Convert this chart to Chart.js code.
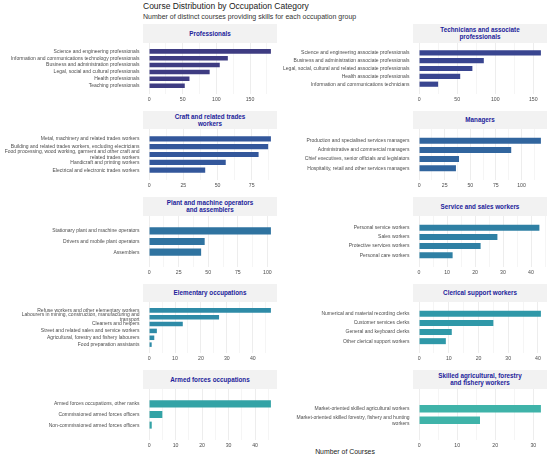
<!DOCTYPE html>
<html>
<head>
<meta charset="utf-8">
<script src="https://cdn.jsdelivr.net/npm/chart.js@4.4.1/dist/chart.umd.min.js"></script>
<style>
  body { margin: 0; background: #fff; font-family: "Liberation Sans", Arial, sans-serif; }
  #wrap { position: relative; width: 550px; height: 458px; overflow: hidden; }
  .title { position: absolute; left: 143px; top: 1px; font-size: 8.5px; color: #1a1a1a; white-space: nowrap; }
  .subtitle { position: absolute; left: 143px; top: 13px; font-size: 7px; color: #333; white-space: nowrap; }
  .strip {
    position: absolute; width: 134px; height: 18.5px; background: #f2f2f2; box-sizing: border-box;
    display: flex; align-items: center; justify-content: center; text-align: center;
    font-weight: bold; font-size: 6.3px; line-height: 7px; color: #22229a;
  }
  .panel { position: absolute; }
  .xtitle { position: absolute; left: 345px; top: 448px; transform: translateX(-50%); font-size: 6.9px; color: #1a1a1a; white-space: nowrap; }
</style>
</head>
<body>
<div id="wrap">
  <div class="title">Course Distribution by Occupation Category</div>
  <div class="subtitle">Number of distinct courses providing skills for each occupation group</div>
  <div class="xtitle">Number of Courses</div>
</div>
<script>
// Occupation groups, in facet order
const groupNames = [
  'Professionals', 'Technicians and associate professionals',
  'Craft and related trades workers', 'Managers',
  'Plant and machine operators and assemblers', 'Service and sales workers',
  'Elementary occupations', 'Clerical support workers',
  'Armed forces occupations', 'Skilled agricultural, forestry and fishery workers'
];

const professionalsLabels = ['Science and engineering professionals', 'Information and communications technology professionals',
  'Business and administration professionals', 'Legal, social and cultural professionals', 'Health professionals', 'Teaching professionals'];
const professionalsValues = [181, 117, 105, 90, 60, 53];

const techniciansLabels = ['Science and engineering associate professionals', 'Business and administration associate professionals',
  'Legal, social, cultural and related associate professionals', 'Health associate professionals', 'Information and communications technicians'];
const techniciansValues = [160, 85, 70, 54, 25];

const craftLabels = ['Metal, machinery and related trades workers', 'Building and related trades workers, excluding electricians',
  ['Food processing, wood working, garment and other craft and', 'related trades workers'], 'Handicraft and printing workers', 'Electrical and electronic trades workers'];
const craftValues = [89, 87, 80, 56, 41];

const managersLabels = ['Production and specialised services managers', 'Administrative and commercial managers',
  'Chief executives, senior officials and legislators', 'Hospitality, retail and other services managers'];
const managersValues = [119, 90, 39, 36];

const plantLabels = ['Stationary plant and machine operators', 'Drivers and mobile plant operators', 'Assemblers'];
const plantValues = [103, 47, 44];

const serviceLabels = ['Personal service workers', 'Sales workers', 'Protective services workers', 'Personal care workers'];
const serviceValues = [43, 28, 22, 12];

const elementaryLabels = ['Refuse workers and other elementary workers', ['Labourers in mining, construction, manufacturing and', 'transport'],
  'Cleaners and helpers', 'Street and related sales and service workers', 'Agricultural, forestry and fishery labourers', 'Food preparation assistants'];
const elementaryValues = [47, 27, 13, 3, 2, 1];

const clericalLabels = ['Numerical and material recording clerks', 'Customer services clerks', 'General and keyboard clerks', 'Other clerical support workers'];
const clericalValues = [41, 25, 11, 9];

const armedLabels = ['Armed forces occupations, other ranks', 'Commissioned armed forces officers', 'Non-commissioned armed forces officers'];
const armedValues = [46, 5, 1];

const skilledLabels = ['Market-oriented skilled agricultural workers', ['Market-oriented skilled forestry, fishery and hunting', 'workers']];
const skilledValues = [32, 16];

// major tick step per panel (minor grid lines sit halfway)
const majorSteps = [50, 50, 25, 25, 25, 10, 10, 10, 10, 10];

const barColors = ['#3e3c82', '#394590', '#33579b', '#31659e', '#2f73a0', '#2f80a4', '#2e8ba7', '#2f98a8', '#33a3a6', '#3fb3a9'];

const panelLabels = [professionalsLabels, techniciansLabels, craftLabels, managersLabels, plantLabels,
  serviceLabels, elementaryLabels, clericalLabels, armedLabels, skilledLabels];
const panelValues = [professionalsValues, techniciansValues, craftValues, managersValues, plantValues,
  serviceValues, elementaryValues, clericalValues, armedValues, skilledValues];

const FONT = '"Liberation Sans", Arial, sans-serif';
const wrap = document.getElementById('wrap');

// room above the plot area so overhanging y labels don't squeeze it;
// the canvas is shifted up by the same amount (transparent over the strip)
const TOP_PAD = 10;

groupNames.forEach((name, idx) => {
  const col = idx % 2;
  const row = Math.floor(idx / 2);
  const stripTop = 24 + row * 86.5;
  const left = col === 0 ? 0 : 270;

  // facet strip
  const strip = document.createElement('div');
  strip.className = 'strip';
  strip.style.left = (left + 143) + 'px';
  strip.style.top = stripTop + 'px';
  strip.style.padding = name.length > 26 ? '0 22px' : '0';
  strip.textContent = name;
  wrap.appendChild(strip);

  const canvas = document.createElement('canvas');
  canvas.className = 'panel';
  canvas.width = 277;
  canvas.height = 63 + TOP_PAD;
  canvas.style.left = left + 'px';
  canvas.style.top = (stripTop + 18.5 - TOP_PAD) + 'px';
  wrap.appendChild(canvas);

  const labels = panelLabels[idx];
  const values = panelValues[idx];
  const n = values.length;
  const top = Math.max(...values);
  const step = majorSteps[idx];

  new Chart(canvas, {
    type: 'bar',
    data: {
      datasets: [{
        data: values.map((v, i) => ({ x: v, y: i })),
        backgroundColor: barColors[idx],
        borderWidth: 0,
        categoryPercentage: 1,
        barPercentage: 0.66
      }]
    },
    options: {
      indexAxis: 'y',
      responsive: false,
      animation: false,
      events: [],
      layout: { padding: { top: TOP_PAD, left: 0, right: 0, bottom: 0 } },
      plugins: { legend: { display: false }, tooltip: { enabled: false } },
      scales: {
        x: {
          type: 'linear',
          min: -0.05 * top,
          max: 1.05 * top,
          border: { display: false },
          grid: {
            drawTicks: false,
            color: '#ebebeb',
            lineWidth: c => (c.tick && c.tick.value % step === 0 ? 0.9 : 0.5)
          },
          ticks: {
            stepSize: step / 2,
            includeBounds: false,
            autoSkip: false,
            maxRotation: 0,
            padding: 2,
            color: '#4d4d4d',
            font: { size: 5.2, family: FONT },
            callback: v => (v % step === 0 ? String(v) : '')
          },
          afterBuildTicks: s => {
            // ggplot-style 5% expansion on both sides
            s.min = -0.05 * top;
            s.max = 1.05 * top;
            s.ticks = s.ticks.filter(t => t.value >= 0 && t.value <= s.max);
          },
          afterFit: s => { s.height = 12; }
        },
        y: {
          type: 'linear',
          reverse: true,
          min: -0.6,
          max: n - 0.4,
          border: { display: false },
          grid: { display: false, drawTicks: false },
          ticks: {
            stepSize: 1,
            includeBounds: false,
            autoSkip: false,
            padding: 3.5,
            color: '#4d4d4d',
            font: { size: 5, family: FONT, lineHeight: 1.15 },
            callback: v => labels[v]
          },
          afterBuildTicks: s => {
            // discrete axis: 0.6 of a slot of padding at each end
            s.min = -0.6;
            s.max = n - 0.4;
            s.ticks = s.ticks.filter(t => Number.isInteger(t.value) && t.value >= 0 && t.value < n);
          },
          afterFit: s => { s.width = 143; }
        }
      }
    }
  });
});
</script>
</body>
</html>
